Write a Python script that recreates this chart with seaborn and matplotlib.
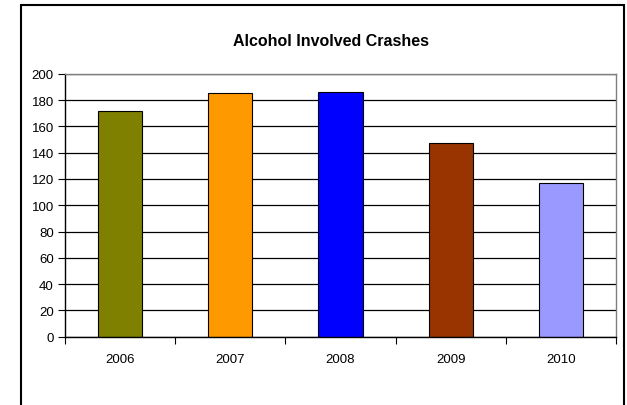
import matplotlib
matplotlib.use("Agg")
import matplotlib.pyplot as plt
import matplotlib.patches as mpatches
import numpy as np
import pandas as pd
import seaborn as sns

# data
years = ["2006", "2007", "2008", "2009", "2010"]
crashes = [172, 185, 186, 147, 117]
bar_colors = ["#808000", "#FF9900", "#0000FF", "#993300", "#9999FF"]
y_ticks = list(range(0, 201, 20))

sns.set_theme(style="white")
plt.rcParams['font.family'] = ['Liberation Sans', 'DejaVu Sans']
plt.rcParams['text.color'] = 'black'
plt.rcParams['xtick.color'] = 'black'
plt.rcParams['ytick.color'] = 'black'

df = pd.DataFrame({"year": years, "crashes": crashes})

fig = plt.figure(figsize=(6.27, 4.06), dpi=100)
fig.patch.set_facecolor("white")
ax = fig.add_axes([65 / 627, 1 - 337.7 / 406, (616 - 65) / 627, (337.7 - 74.7) / 406])

sns.barplot(data=df, x="year", y="crashes", hue="year", palette=bar_colors,
            legend=False, width=0.4, edgecolor="black", linewidth=0.8,
            saturation=1, ax=ax)

ax.set_ylim(0, 200)
ax.set_yticks(y_ticks)
ax.set_xlim(-0.5, len(years) - 0.5)
ax.set_axisbelow(True)
ax.yaxis.grid(True, color="black", linewidth=0.9)
ax.xaxis.grid(False)
ax.set_xlabel("")
ax.set_ylabel("")

# ticks: y outward, x only at category boundaries
ax.tick_params(axis="y", which="major", direction="out", length=5, width=0.8,
               color="black", labelcolor="black", labelsize=9.5, pad=3, left=True)
ax.tick_params(axis="x", which="major", length=0, labelcolor="black",
               labelsize=9.5, pad=12)
ax.set_xticks(np.arange(-0.5, len(years), 1), minor=True)
ax.tick_params(axis="x", which="minor", direction="out", length=5, width=0.8,
               color="black", bottom=True)

for side in ["left", "bottom"]:
    ax.spines[side].set_color("black")
    ax.spines[side].set_linewidth(1.0)
for side in ["top", "right"]:
    ax.spines[side].set_color("#808080")
    ax.spines[side].set_linewidth(1.0)

fig.text(331 / 627, 1 - 41.5 / 406, "Alcohol Involved Crashes", ha="center",
         va="center", fontsize=11.5, fontweight="bold", color="black")

# outer chart frame (bottom edge lies outside the picture)
frame = mpatches.Rectangle((21 / 627, -0.1), (624 - 21) / 627, 0.1 + (406 - 6) / 406,
                           transform=fig.transFigure, fill=False,
                           edgecolor="black", linewidth=1.5)
fig.patches.append(frame)

fig.savefig("out.png", dpi=100)
plt.close(fig)
